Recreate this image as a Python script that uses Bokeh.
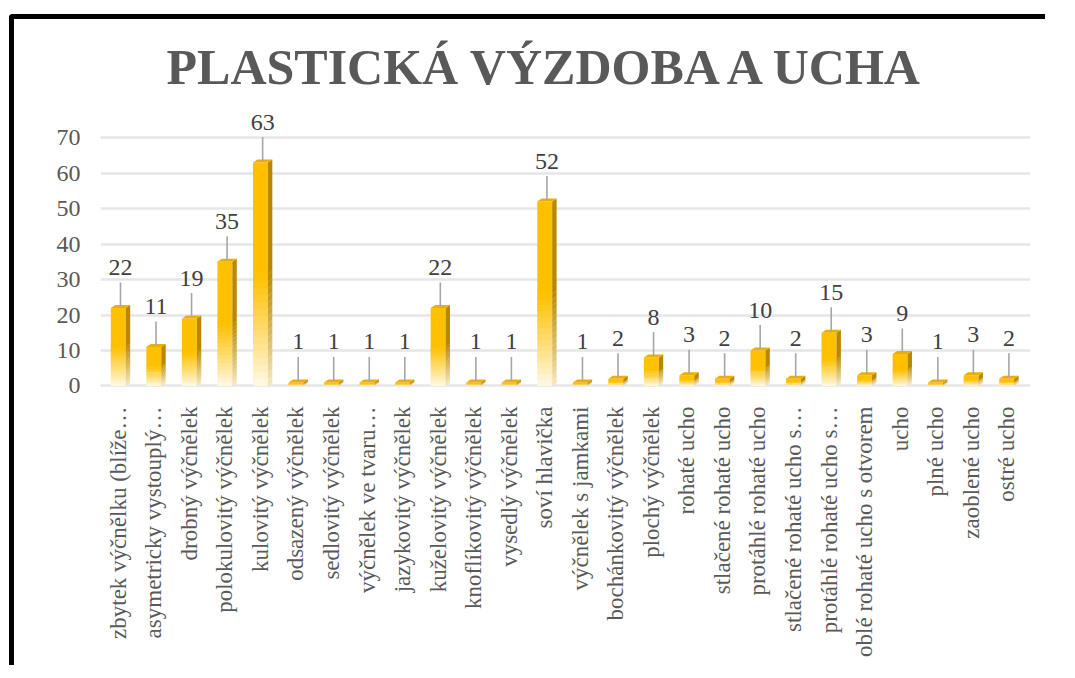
import math
from bokeh.plotting import figure
from bokeh.models import FixedTicker, Range1d
from bokeh.core.properties import value
from bokeh.embed import file_html
from bokeh.resources import INLINE

# ---------------- data ----------------
categories = [
    "zbytek výčnělku (blíže…",
    "asymetricky vystouplý…",
    "drobný výčnělek",
    "polokulovitý výčnělek",
    "kulovitý výčnělek",
    "odsazený výčnělek",
    "sedlovitý výčnělek",
    "výčnělek ve tvaru…",
    "jazykovitý výčnělek",
    "kuželovitý výčnělek",
    "knoflíkovitý výčnělek",
    "vysedlý výčnělek",
    "soví hlavička",
    "výčnělek s jamkami",
    "bochánkovitý výčnělek",
    "plochý výčnělek",
    "rohaté ucho",
    "stlačené rohaté ucho",
    "protáhlé rohaté ucho",
    "stlačené rohaté ucho s…",
    "protáhlé rohaté ucho s…",
    "oblé rohaté ucho s otvorem",
    "ucho",
    "plné ucho",
    "zaoblené ucho",
    "ostré ucho",
]
counts = [22, 11, 19, 35, 63, 1, 1, 1, 1, 22, 1, 1, 52, 1, 2, 8, 3, 2, 10, 2, 15, 3, 9, 1, 3, 2]
y_ticks = [0, 10, 20, 30, 40, 50, 60, 70]
title_text = "PLASTICKÁ VÝZDOBA A UCHA"

# ---------------- style ----------------
SERIF = "'Liberation Serif', 'Times New Roman', serif"
GOLD = (255, 192, 0)
GOLD_LIGHT = (255, 250, 236)
SIDE = (184, 137, 0)
SIDE_LIGHT = (246, 232, 196)
TOP = (236, 174, 0)

BAR_W = 0.42
DX = 0.125
DY = 0.85
FADE = 0.5
NF = 16

# title placement (frame units; the frame extends above the plotted values)
TITLE_X = 1.357
TITLE_Y = 89.9


def mix(c0, c1, t):
    return "#%02x%02x%02x" % tuple(int(round(a + (b - a) * t)) for a, b in zip(c0, c1))


p = figure(
    width=1036, height=651,
    x_range=Range1d(-0.5, 25.67), y_range=Range1d(-1, 98),
    output_backend="svg", toolbar_location=None,
    min_border_left=86, min_border_right=20, min_border_top=19, min_border_bottom=281,
)
p.styles = {
    "border-top": "5px solid black",
    "border-left": "5px solid black",
    "border-top-left-radius": "4px",
    "position": "absolute",
    "top": "14px",
    "left": "9px",
}
p.outline_line_color = None
p.background_fill_color = "white"
p.border_fill_color = "white"

# axes
p.xaxis.ticker = FixedTicker(ticks=list(range(len(categories))))
p.xaxis.major_label_overrides = {i: c for i, c in enumerate(categories)}
p.xaxis.major_label_orientation = math.pi / 2
p.xaxis.major_label_text_font = SERIF
p.xaxis.major_label_text_font_size = "23px"
p.xaxis.major_label_text_color = "#595959"
p.xaxis.major_label_standoff = 11
p.yaxis.ticker = FixedTicker(ticks=y_ticks)
p.yaxis.major_label_text_font = SERIF
p.yaxis.major_label_text_font_size = "24px"
p.yaxis.major_label_text_color = "#595959"
p.yaxis.major_label_standoff = 14
for ax in (p.xaxis, p.yaxis):
    ax.axis_line_color = None
    ax.major_tick_line_color = None
    ax.minor_tick_line_color = None
p.xgrid.grid_line_color = None
p.ygrid.grid_line_color = "#E6E6E6"
p.ygrid.grid_line_width = 2.5

# chart title
p.text(x=[TITLE_X], y=[TITLE_Y], text=[title_text],
       text_font=value("'Liberation Serif'"), text_font_style="bold", text_font_size="50px",
       text_color="#595959", text_baseline="middle")

# bars: front face (gradient slices), side face, top face
fl, fr, fb, ft, fc = [], [], [], [], []
sxs, sys_, scs = [], [], []
txs, tys = [], []
for i, v in enumerate(counts):
    xl = i - BAR_W / 2
    xr = i + BAR_W / 2
    fade_top = v * FADE
    fl.append(xl); fr.append(xr); fb.append(fade_top); ft.append(v); fc.append(mix(GOLD, GOLD, 0))
    sxs.append([xr, xr + DX, xr + DX, xr]); sys_.append([fade_top, fade_top + DY, v + DY, v]); scs.append(mix(SIDE, SIDE, 0))
    for k in range(NF):
        y0 = fade_top * k / NF
        y1 = fade_top * (k + 1) / NF
        t = 1 - ((k + 0.5) / NF) ** 0.9
        fl.append(xl); fr.append(xr); fb.append(y0); ft.append(y1 + 0.02 * fade_top); fc.append(mix(GOLD, GOLD_LIGHT, t))
        sxs.append([xr, xr + DX, xr + DX, xr]); sys_.append([y0, y0 + DY, y1 + DY, y1]); scs.append(mix(SIDE, SIDE_LIGHT, t))
    txs.append([xl, xr, xr + DX, xl + DX]); tys.append([v, v, v + DY, v + DY])

p.quad(left=fl, right=fr, bottom=fb, top=ft, fill_color=fc, line_color=None)
p.patches(xs=sxs, ys=sys_, fill_color=scs, line_color=None)
p.patches(xs=txs, ys=tys, fill_color=mix(TOP, TOP, 0), line_color=None)

# data labels with leader lines
idx = list(range(len(counts)))
p.segment(x0=[i + DX / 2 for i in idx], y0=[v + DY / 2 for v in counts],
          x1=[i + DX / 2 for i in idx], y1=[v + 7.2 for v in counts],
          line_color="#A6A6A6", line_width=1.6)
p.text(x=[i + DX / 2 for i in idx], y=[v + 11.4 for v in counts], text=[str(v) for v in counts],
       text_font=value(SERIF), text_font_size="24px", text_color="#404040",
       text_align="center", text_baseline="middle")

open("out.html", "w").write(file_html(p, INLINE))
